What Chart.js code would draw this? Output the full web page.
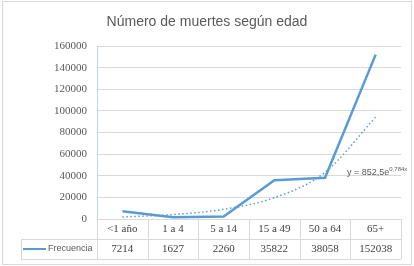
<!DOCTYPE html>
<html>
<head>
<meta charset="utf-8">
<script src="https://cdn.jsdelivr.net/npm/chart.js@4"></script>
<style>
  html, body { margin: 0; padding: 0; background: #fff; }
  #wrap { width: 414px; height: 266px; position: relative; }
</style>
</head>
<body>
<div id="wrap"><canvas id="muertes"></canvas></div>
<script>
// categories and values
var categorias = ['<1 año', '1 a 4', '5 a 14', '15 a 49', '50 a 64', '65+'];
var frecuencia = [7214, 1627, 2260, 35822, 38058, 152038];
// exponential trendline (y = 852,5e^0,784x)
var tendencia = [1870, 4100, 8980, 19700, 43100, 94300];
var yTicks = [0, 20000, 40000, 60000, 80000, 100000, 120000, 140000, 160000];

var azul = '#5B9BD5';
var gris = '#595959';
var borde = '#D9D9D9';

// draws title, data table, trend label and outer border
var tablaPlugin = {
    id: 'tabla',
    afterDraw: function (chart) {
        var ctx = chart.ctx;
        var area = chart.chartArea;
        var x = chart.scales.x;
        var half = (x.getPixelForValue(1) - x.getPixelForValue(0)) / 2;
        var row1 = area.bottom + 20;
        var row2 = row1 + 20;

        ctx.save();

        // title
        ctx.fillStyle = gris;
        ctx.font = '14px "Liberation Sans", sans-serif';
        ctx.textAlign = 'center';
        ctx.textBaseline = 'middle';
        ctx.fillText('Número de muertes según edad', 207, 22);

        // table lines
        ctx.strokeStyle = borde;
        ctx.lineWidth = 1;
        ctx.beginPath();
        ctx.moveTo(21, row1 + 0.5);
        ctx.lineTo(area.right, row1 + 0.5);
        ctx.moveTo(21, row2 + 0.5);
        ctx.lineTo(area.right, row2 + 0.5);
        ctx.moveTo(21.5, row1);
        ctx.lineTo(21.5, row2);
        for (var i = 0; i <= categorias.length; i++) {
            var px = Math.round(x.getPixelForValue(i) - half) + 0.5;
            ctx.moveTo(px, area.bottom);
            ctx.lineTo(px, row2);
        }
        ctx.stroke();

        // table texts
        ctx.fillStyle = '#404040';
        ctx.font = '11px "Liberation Serif", serif';
        ctx.textAlign = 'center';
        categorias.forEach(function (c, i) {
            var cx = x.getPixelForValue(i);
            ctx.fillText(c, cx, area.bottom + 10);
            ctx.fillText(String(frecuencia[i]), cx, row1 + 10);
        });

        // legend key in table
        ctx.strokeStyle = azul;
        ctx.lineWidth = 2;
        ctx.beginPath();
        ctx.moveTo(23, row1 + 10);
        ctx.lineTo(46, row1 + 10);
        ctx.stroke();
        ctx.fillStyle = gris;
        ctx.font = '9px "Liberation Sans", sans-serif';
        ctx.textAlign = 'left';
        ctx.fillText('Frecuencia', 48, row1 + 10);

        // trendline equation
        ctx.font = '9px "Liberation Sans", sans-serif';
        ctx.fillText('y = 852,5e', 347, 173);
        var w = ctx.measureText('y = 852,5e').width;
        ctx.font = '6px "Liberation Sans", sans-serif';
        ctx.fillText('0,784x', 347 + w, 169);

        // outer border
        ctx.strokeStyle = borde;
        ctx.lineWidth = 1;
        ctx.strokeRect(2.5, 1.5, 409, 263);
        ctx.restore();
    }
};

var ctx = document.getElementById('muertes').getContext('2d');
var grafico = new Chart(ctx, {
    type: 'line',
    data: {
        labels: categorias,
        datasets: [{
            label: 'Frecuencia',
            data: frecuencia,
            borderColor: azul,
            borderWidth: 2.5,
            pointRadius: 0,
            tension: 0,
            fill: false
        }, {
            label: 'Tendencia',
            data: tendencia,
            borderColor: azul,
            borderWidth: 1.5,
            borderDash: [1.5, 2.5],
            pointRadius: 0,
            cubicInterpolationMode: 'monotone',
            fill: false
        }]
    },
    options: {
        responsive: true,
        maintainAspectRatio: false,
        animation: false,
        devicePixelRatio: 1,
        layout: { padding: { top: 46, right: 13, left: 0, bottom: 0 } },
        plugins: {
            legend: { display: false },
            title: { display: false },
            tooltip: { enabled: false }
        },
        scales: {
            x: {
                offset: true,
                grid: { display: false },
                border: { display: false },
                ticks: { display: false },
                afterFit: function (s) { s.height = 47; }
            },
            y: {
                min: 0,
                max: 160000,
                afterBuildTicks: function (s) {
                    s.ticks = yTicks.map(function (v) { return { value: v }; });
                },
                grid: { color: borde, drawTicks: false },
                border: { color: '#BDD7EE' },
                ticks: {
                    padding: 10,
                    color: gris,
                    font: { family: '"Liberation Serif", serif', size: 11 },
                    callback: function (v) { return String(v); }
                },
                afterFit: function (s) { s.width = 97; }
            }
        }
    },
    plugins: [tablaPlugin]
});
</script>
</body>
</html>
